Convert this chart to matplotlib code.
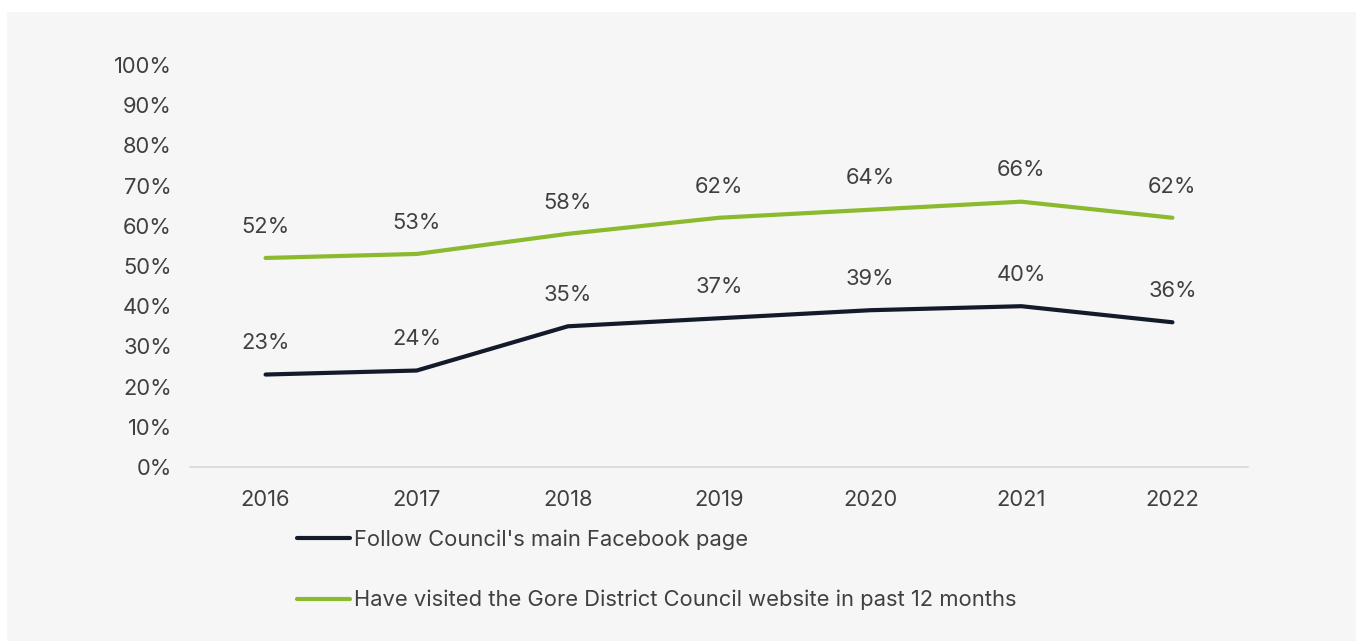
import matplotlib.pyplot as plt
from matplotlib.patches import Rectangle

years = ["2016", "2017", "2018", "2019", "2020", "2021", "2022"]
facebook = [23, 24, 35, 37, 39, 40, 36]
website = [52, 53, 58, 62, 64, 66, 62]
series_names = ["Follow Council's main Facebook page",
                "Have visited the Gore District Council website in past 12 months"]
y_ticks = [0, 10, 20, 30, 40, 50, 60, 70, 80, 90, 100]

NAVY = "#131b2b"
GREEN = "#8bba2f"
TEXT = "#404040"
PANEL = "#f6f6f6"
FS = 15.8

plt.rcParams["font.family"] = ["Inter", "DejaVu Sans"]

W, H = 1356, 641
fig = plt.figure(figsize=(W / 100, H / 100), dpi=100)
fig.patch.set_facecolor("white")
fig.patches.append(Rectangle((7 / W, 0), 1, 1 - 12 / H, transform=fig.transFigure,
                             facecolor=PANEL, edgecolor="none", zorder=-1))

# plot area: x 190..1248, y 0% at 467 and 100% at 65 (pixels from top)
ax = fig.add_axes([190 / W, 1 - 467 / H, (1248 - 190) / W, (467 - 65) / H])
ax.set_facecolor("none")
ax.set_zorder(1)

x = list(range(len(years)))
l1, = ax.plot(x, facebook, color=NAVY, lw=3, solid_capstyle="round")
l2, = ax.plot(x, website, color=GREEN, lw=3, solid_capstyle="round")

for series in (facebook, website):
    for xi, v in zip(x, series):
        ax.annotate(f"{v}%", (xi, v), xytext=(0, 22.5), textcoords="offset points",
                    ha="center", va="center", fontsize=FS, color=TEXT)

ax.set_xlim(-0.5, len(years) - 0.5)
ax.set_ylim(0, 100)
ax.set_yticks(y_ticks)
ax.set_yticklabels([f"{t}%" for t in y_ticks])
ax.set_xticks(x)
ax.set_xticklabels(years)
ax.tick_params(axis="both", length=0, labelsize=FS, labelcolor=TEXT)
ax.tick_params(axis="y", pad=13)
ax.tick_params(axis="x", pad=16.5)

for s in ["top", "right", "left"]:
    ax.spines[s].set_visible(False)
ax.spines["bottom"].set_color("#d9d9d9")
ax.spines["bottom"].set_linewidth(1.2)

fig.legend([l1, l2], series_names, loc="upper left",
           bbox_to_anchor=(297 / W, 1 - 529 / H), frameon=False,
           borderaxespad=0, borderpad=0,
           fontsize=FS, labelcolor=TEXT, handlelength=2.4, handletextpad=0.22,
           labelspacing=1.84)

fig.savefig("out.png", dpi=100, facecolor="white")
